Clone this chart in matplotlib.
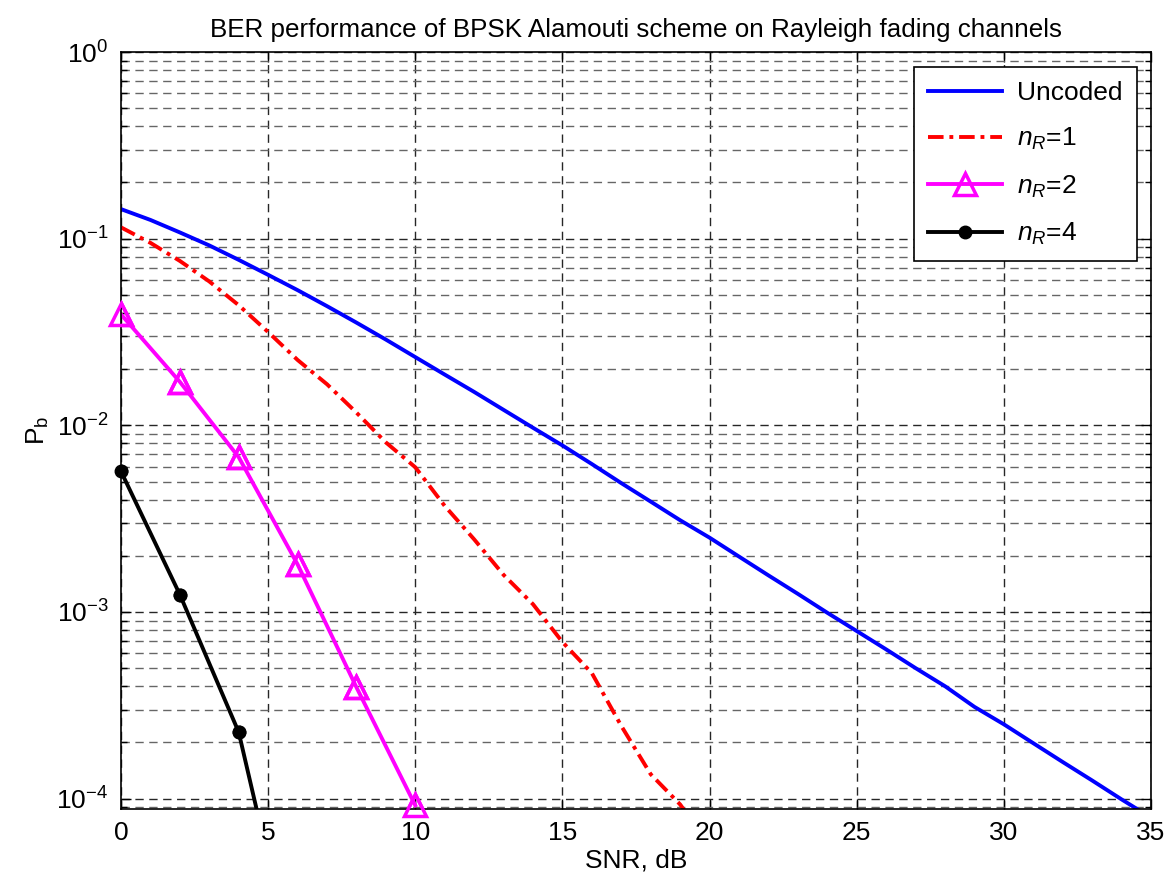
import numpy as np
import matplotlib
matplotlib.use("Agg")
import matplotlib.pyplot as plt
from matplotlib.ticker import LogLocator, FixedLocator, NullFormatter

# values
snr_uncoded = np.arange(0, 36)
ber_uncoded = [0.144, 0.126, 0.108, 0.092, 0.077, 0.064, 0.053, 0.0435, 0.0355,
               0.0288, 0.0232, 0.0187, 0.0151, 0.0121, 0.0097, 0.0078, 0.0062,
               0.0049, 0.0039, 0.0031, 0.0025, 0.00198, 0.00157, 0.00125,
               0.00099, 0.00079, 0.00063, 0.00050, 0.00040, 0.00031, 0.00025,
               0.000198, 0.000157, 0.000125, 0.000099, 0.000079]

snr_nr1 = np.arange(0, 21)
ber_nr1 = [0.115, 0.095, 0.076, 0.059, 0.044, 0.0316, 0.0224, 0.0166, 0.0117,
           0.0081, 0.00596, 0.0037, 0.00245, 0.00158, 0.0011, 0.00069, 0.00047,
           0.000245, 0.000135, 0.000093, 0.000056]

snr_nr2 = [0, 2, 4, 6, 8, 10]
ber_nr2 = [0.0393, 0.0171, 0.00675, 0.00180, 0.000395, 0.000092]

snr_nr4 = [0, 2, 4, 6]
ber_nr4 = [0.00567, 0.00124, 0.000227, 0.00001]

y_min, y_max = 8.8e-5, 1

plt.rcParams["font.family"] = ["Liberation Sans", "DejaVu Sans"]
plt.rcParams["mathtext.fontset"] = "custom"
plt.rcParams["mathtext.rm"] = "Liberation Sans"
plt.rcParams["mathtext.it"] = "Liberation Sans:italic"
plt.rcParams["axes.unicode_minus"] = False
plt.rcParams["font.size"] = 19

fig = plt.figure(figsize=(11.71, 8.8), dpi=100)
ax = fig.add_axes([0.1033, 0.0807, 0.8797, 0.8602])

ax.plot(snr_uncoded, ber_uncoded, color="#0000ff", lw=2.8, label="Uncoded")
ax.plot(snr_nr1, ber_nr1, color="#ff0000", lw=2.8, ls=(0, (4, 1.5, 1, 1.5)),
        label=r"$n_R$=1")
ax.plot(snr_nr2, ber_nr2, color="#ff00ff", lw=2.8, marker="^", ms=16,
        mfc="none", mew=2.5, label=r"$n_R$=2")
ax.plot(snr_nr4, ber_nr4, color="black", lw=2.8, marker="o", ms=9,
        label=r"$n_R$=4")

# matlab does not clip markers at the axes border
for xs, ys, kw in [(snr_nr2, ber_nr2, dict(color="#ff00ff", marker="^", ms=16, mfc="none", mew=2.5)),
                   (snr_nr4, ber_nr4, dict(color="black", marker="o", ms=9))]:
    keep = [(a, b) for a, b in zip(xs, ys) if y_min <= b <= y_max]
    ax.plot([k[0] for k in keep], [k[1] for k in keep], ls="none",
            clip_on=False, zorder=3, **kw)

ax.set_yscale("log")
ax.set_xlim(0, 35)
ax.set_ylim(y_min, y_max)
ax.xaxis.set_major_locator(FixedLocator(np.arange(0, 36, 5)))
ax.yaxis.set_major_locator(LogLocator(base=10, numticks=10))
ax.yaxis.set_minor_locator(LogLocator(base=10, subs=np.arange(2, 10), numticks=20))
ax.yaxis.set_minor_formatter(NullFormatter())

ax.grid(True, which="major", axis="both", color="0.15", ls=(0, (6, 4)), lw=1)
ax.grid(True, which="minor", axis="y", color="0.4", ls=(0, (6, 4)), lw=1)
ax.tick_params(which="both", direction="in", top=True, right=True, labelsize=19)
ax.tick_params(which="major", length=7, width=1, pad=9)
ax.tick_params(which="minor", length=4, width=1)
for s in ax.spines.values():
    s.set_linewidth(1.2)

ax.set_title("BER performance of BPSK Alamouti scheme on Rayleigh fading channels",
             fontsize=18.7, pad=11)
ax.set_xlabel("SNR, dB", labelpad=2)
ax.set_ylabel(r"P$_\mathrm{b}$", labelpad=4)

leg = ax.legend(loc="upper right", handlelength=2.8, labelspacing=0.8,
                fancybox=False, framealpha=1, edgecolor="black",
                borderpad=0.55, fontsize=19, borderaxespad=0.55,
                handletextpad=0.55)
leg.get_frame().set_linewidth(1.2)

fig.savefig("out.png", dpi=100)
